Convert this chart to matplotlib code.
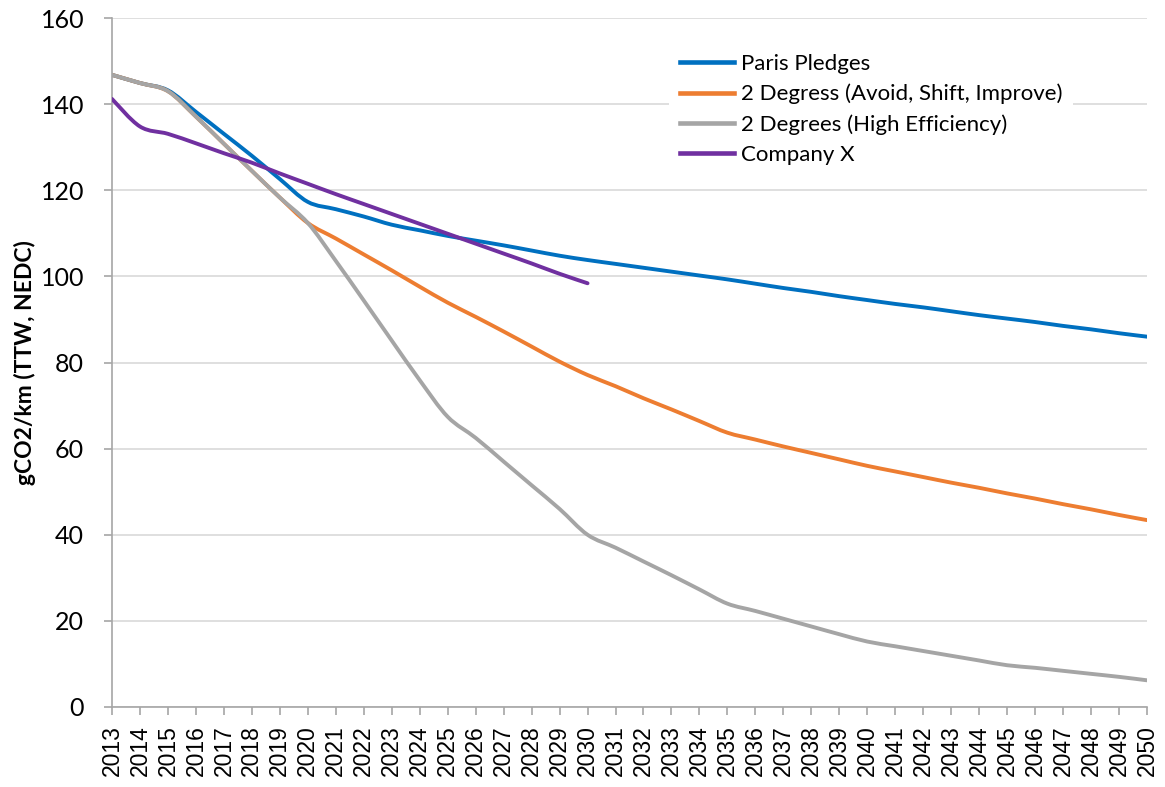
import matplotlib
matplotlib.use("Agg")
import matplotlib.pyplot as plt
from matplotlib.path import Path
from matplotlib.patches import PathPatch
from matplotlib.lines import Line2D

years = list(range(2013, 2051))

paris = [146.8, 144.9, 143.2, 138.2, 133.1, 128.0, 122.6, 117.3, 115.6, 113.9, 112.0, 110.7, 109.4,
         108.3, 107.2, 106.0, 104.8, 103.8, 102.9, 102.0, 101.1, 100.2, 99.3, 98.3, 97.3, 96.4, 95.4,
         94.5, 93.6, 92.8, 91.9, 91.0, 90.2, 89.4, 88.5, 87.7, 86.8, 86.0]
two_deg_asi = [146.8, 144.9, 143.0, 137.1, 130.8, 124.5, 118.3, 112.4, 108.8, 105.1, 101.4, 97.6, 93.9,
               90.6, 87.2, 83.7, 80.2, 77.1, 74.5, 71.7, 69.1, 66.4, 63.7, 62.1, 60.5, 59.0, 57.5,
               56.0, 54.7, 53.4, 52.1, 50.9, 49.6, 48.4, 47.1, 45.9, 44.6, 43.4]
two_deg_he = [146.8, 144.9, 143.0, 137.1, 130.8, 124.5, 118.3, 112.4, 103.6, 94.4, 85.1, 75.9, 67.4,
              62.5, 57.0, 51.5, 46.0, 40.0, 37.0, 33.8, 30.6, 27.3, 24.0, 22.3, 20.5, 18.7, 16.9,
              15.2, 14.1, 13.0, 11.9, 10.8, 9.7, 9.1, 8.4, 7.7, 7.0, 6.2]
company_x_years = list(range(2013, 2031))
company_x = [141.2, 134.8, 133.1, 130.9, 128.6, 126.4, 123.9, 121.5, 119.1, 116.8, 114.5, 112.2, 109.9,
             107.6, 105.3, 103.0, 100.6, 98.4]

labels = ["Paris Pledges", "2 Degress (Avoid, Shift, Improve)", "2 Degrees (High Efficiency)", "Company X"]
colors = ["#0070C0", "#ED7D31", "#A5A5A5", "#7030A0"]

fig = plt.figure(figsize=(11.65, 7.87), dpi=100)
ax = fig.add_axes([112/1165, 1-707/787, (1147-112)/1165, (707-18)/787])

lw = 2.8


def smooth_line(ax, xs, ys, color, z):
    # Excel-like smoothed line: cubic Bezier through each data point (Catmull-Rom tangents)
    n = len(xs)
    verts = [(xs[0], ys[0])]
    codes = [Path.MOVETO]
    t = 1.0 / 6.0
    for i in range(n - 1):
        x0, y0 = (xs[i - 1], ys[i - 1]) if i > 0 else (xs[i], ys[i])
        x1, y1 = xs[i], ys[i]
        x2, y2 = xs[i + 1], ys[i + 1]
        x3, y3 = (xs[i + 2], ys[i + 2]) if i + 2 < n else (x2, y2)
        c1 = (x1 + (x2 - x0) * t, y1 + (y2 - y0) * t)
        c2 = (x2 - (x3 - x1) * t, y2 - (y3 - y1) * t)
        verts += [c1, c2, (x2, y2)]
        codes += [Path.CURVE4] * 3
    patch = PathPatch(Path(verts, codes), facecolor="none", edgecolor=color, lw=lw,
                      capstyle="round", joinstyle="round", zorder=z)
    ax.add_patch(patch)


smooth_line(ax, years, paris, colors[0], 3)
smooth_line(ax, years, two_deg_asi, colors[1], 3)
smooth_line(ax, years, two_deg_he, colors[2], 4)
smooth_line(ax, company_x_years, company_x, colors[3], 5)

ax.set_xlim(2013, 2050)
ax.set_ylim(0, 160)
ax.set_yticks(range(0, 161, 20))
ax.set_xticks(years)
ax.set_xticklabels([str(y) for y in years], rotation=90, fontsize=16.5, family="Liberation Sans")
for tl in ax.get_yticklabels():
    tl.set_family("Lato")
    tl.set_fontsize(18)

ax.grid(axis="y", color="#D9D9D9", lw=1.2)
ax.set_axisbelow(True)
for s in ["top", "right"]:
    ax.spines[s].set_visible(False)
for s in ["left", "bottom"]:
    ax.spines[s].set_color("#A6A6A6")
    ax.spines[s].set_linewidth(1.2)
ax.tick_params(axis="both", color="#A6A6A6", width=1.2, length=6)
ax.tick_params(axis="y", pad=14)
ax.tick_params(axis="x", pad=7)

ax.set_ylabel("gCO2/km (TTW, NEDC)", fontsize=16.5, fontweight="bold", family="Lato", labelpad=3)

handles = [Line2D([], [], color=c, lw=3.3) for c in colors]
leg = ax.legend(handles, labels, loc="upper left", bbox_to_anchor=(0.527, 0.98), frameon=True,
                fancybox=False, edgecolor="none", facecolor="white", framealpha=1,
                prop={"family": "Lato", "size": 16}, handlelength=2.45, handletextpad=0.3,
                labelspacing=0.44, borderpad=0.5)

fig.savefig("out.png", dpi=100)
